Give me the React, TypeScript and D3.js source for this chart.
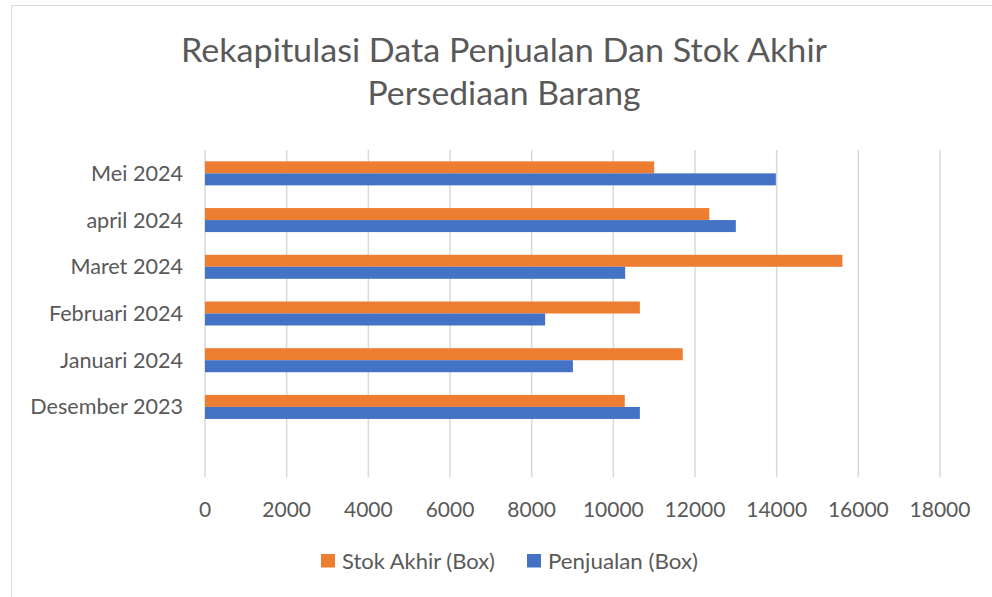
import { useEffect, useRef } from 'react';
import * as d3 from 'd3';

// bottom band is an empty category row in the source sheet
const categories = ['', 'Desember 2023', 'Januari 2024', 'Februari 2024', 'Maret 2024', 'april 2024', 'Mei 2024'];
const stokAkhir = [null, 10280, 11700, 10650, 15610, 12350, 11000];
const penjualan = [null, 10650, 9010, 8330, 10290, 13000, 13980];
const xTicks = [0, 2000, 4000, 6000, 8000, 10000, 12000, 14000, 16000, 18000];
const seriesNames = ['Stok Akhir (Box)', 'Penjualan (Box)'];
const seriesColors = ['#ED7D31', '#4472C4'];
const titleLines = ['Rekapitulasi Data Penjualan Dan Stok Akhir', 'Persediaan Barang'];

const W = 992;
const H = 597;
const FONT = 'Lato, "Open Sans", sans-serif';
const TEXT = '#595959';

export default function App() {
  const svgRef = useRef<SVGSVGElement>(null);

  useEffect(() => {
    if (!svgRef.current) return;
    const svg = d3.select(svgRef.current);
    svg.selectAll('*').remove();

    // chart frame (runs off the right and bottom edge)
    svg.append('rect')
      .attr('x', 11.5).attr('y', 5.5)
      .attr('width', W + 20).attr('height', H + 20)
      .attr('fill', '#fff')
      .attr('stroke', '#D9D9D9');

    const plot = { left: 205, right: 940, top: 150, bottom: 477 };

    const x = d3.scaleLinear().domain([0, 18000]).range([plot.left, plot.right]);
    const y = d3.scaleBand<string>()
      .domain([...categories].reverse())
      .range([plot.top, plot.bottom])
      .paddingInner(0.486)
      .paddingOuter(0.243);
    const sub = d3.scaleBand<number>().domain([0, 1]).range([0, y.bandwidth()]);

    // vertical gridlines
    svg.append('g')
      .selectAll('line')
      .data(xTicks)
      .join('line')
      .attr('x1', d => x(d)).attr('x2', d => x(d))
      .attr('y1', plot.top).attr('y2', plot.bottom)
      .attr('stroke', '#D9D9D9')
      .attr('stroke-width', 1.5);

    // tick labels
    svg.append('g')
      .selectAll('text')
      .data(xTicks)
      .join('text')
      .attr('x', d => x(d))
      .attr('y', 516.5)
      .attr('text-anchor', 'middle')
      .attr('font-family', FONT)
      .attr('font-size', 21)
      .attr('fill', TEXT)
      .text(d => String(d));

    // category labels
    svg.append('g')
      .selectAll('text')
      .data(categories.filter(c => c !== ''))
      .join('text')
      .attr('x', 183)
      .attr('y', d => (y(d) ?? 0) + y.bandwidth() / 2 + 7.5)
      .attr('text-anchor', 'end')
      .attr('font-family', FONT)
      .attr('font-size', 21.6)
      .attr('fill', TEXT)
      .text(d => d);

    // bars
    const series = [stokAkhir, penjualan];
    series.forEach((vals, si) => {
      svg.append('g')
        .selectAll('rect')
        .data(categories.map((c, i) => ({ c, v: vals[i] })).filter(d => d.v != null))
        .join('rect')
        .attr('x', x(0))
        .attr('y', d => (y(d.c) ?? 0) + (sub(si) ?? 0))
        .attr('width', d => x(d.v as number) - x(0))
        .attr('height', sub.bandwidth())
        .attr('fill', seriesColors[si]);
    });

    // title
    const titleWidths = [646, 273];
    svg.append('g')
      .selectAll('text')
      .data(titleLines)
      .join('text')
      .attr('x', 504)
      .attr('y', (_, i) => 61.7 + i * 43.5)
      .attr('text-anchor', 'middle')
      .attr('font-family', FONT)
      .attr('font-size', 32)
      .attr('fill', TEXT)
      .attr('textLength', (_, i) => titleWidths[i])
      .attr('lengthAdjust', 'spacingAndGlyphs')
      .text(d => d);

    // legend
    const legendX = [321, 527];
    const legendW = [153, 150];
    const lg = svg.append('g');
    seriesNames.forEach((name, i) => {
      lg.append('rect')
        .attr('x', legendX[i]).attr('y', 554)
        .attr('width', 14).attr('height', 13.5)
        .attr('fill', seriesColors[i]);
      lg.append('text')
        .attr('x', legendX[i] + 21)
        .attr('y', 569)
        .attr('font-family', FONT)
        .attr('font-size', 21.6)
        .attr('fill', TEXT)
        .attr('textLength', legendW[i])
        .attr('lengthAdjust', 'spacingAndGlyphs')
        .text(name);
    });
  }, []);

  return (
    <svg
      ref={svgRef}
      width={W}
      height={H}
      style={{ position: 'absolute', left: 0, top: 0, background: '#fff' }}
    />
  );
}
